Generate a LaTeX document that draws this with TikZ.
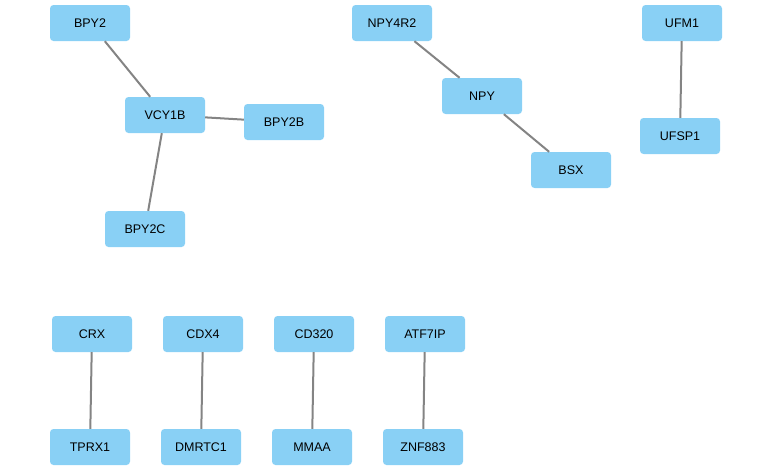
\documentclass[tikz,border=0pt]{standalone}
\usepackage{fontspec}
\setmainfont{Liberation Sans}
\definecolor{genefill}{HTML}{89D0F5}
\definecolor{edgegray}{HTML}{848484}
\tikzset{
  gene/.style={fill=genefill, rounded corners=3.5pt, minimum width=80pt, minimum height=36pt,
    inner sep=0pt, font=\fontsize{12.5}{14}\selectfont},
  link/.style={draw=edgegray, line width=2pt}
}
\begin{document}
\begin{tikzpicture}[x=1pt, y=-1pt]
    \useasboundingbox (0,0) rectangle (772,471);
    % first cluster
    \node[gene] (bpy2) at (90,23) {BPY2};
    \node[gene] (vcy1b) at (165,115) {VCY1B};
    \node[gene] (bpy2b) at (284,122) {BPY2B};
    \node[gene] (bpy2c) at (145,229) {BPY2C};
    % second cluster
    \node[gene] (npy4r2) at (392,23) {NPY4R2};
    \node[gene] (npy) at (482,96) {NPY};
    \node[gene] (bsx) at (571,170) {BSX};
    \node[gene] (ufm1) at (682,23) {UFM1};
    \node[gene] (ufsp1) at (680,136) {UFSP1};
    % pairs
    \node[gene] (crx) at (92,334) {CRX};
    \node[gene] (tprx1) at (90,447) {TPRX1};
    \node[gene] (cdx4) at (203,334) {CDX4};
    \node[gene] (dmrtc1) at (201,447) {DMRTC1};
    \node[gene] (cd320) at (314,334) {CD320};
    \node[gene] (mmaa) at (312,447) {MMAA};
    \node[gene] (atf7ip) at (425,334) {ATF7IP};
    \node[gene] (znf883) at (423,447) {ZNF883};
    % edges
    \draw[link] (bpy2) -- (vcy1b);
    \draw[link] (vcy1b) -- (bpy2b);
    \draw[link] (vcy1b) -- (bpy2c);
    \draw[link] (npy4r2) -- (npy);
    \draw[link] (npy) -- (bsx);
    \draw[link] (ufm1) -- (ufsp1);
    \draw[link] (crx) -- (tprx1);
    \draw[link] (cdx4) -- (dmrtc1);
    \draw[link] (cd320) -- (mmaa);
    \draw[link] (atf7ip) -- (znf883);
\end{tikzpicture}
\end{document}
